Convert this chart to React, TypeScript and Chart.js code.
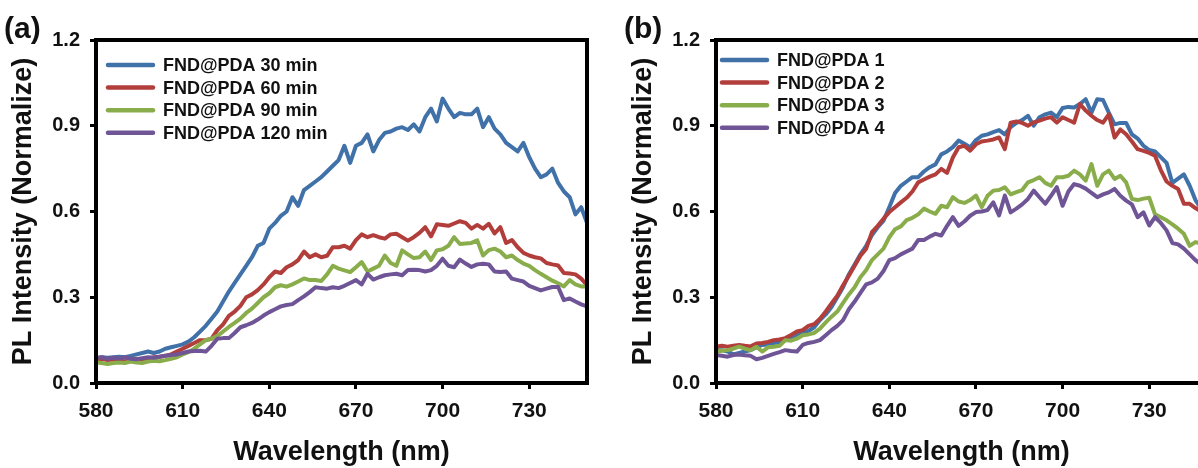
import React, { useEffect, useRef } from "react";
import { Chart, registerables } from "chart.js";

Chart.register(...registerables);

// ---------- data ----------
const wavelengths = [
  580, 582, 584, 586, 588, 590, 592, 594, 596, 598,
  600, 602, 604, 606, 608, 610, 612, 614, 616, 618,
  620, 622, 624, 626, 628, 630, 632, 634, 636, 638,
  640, 642, 644, 646, 648, 650, 652, 654, 656, 658,
  660, 662, 664, 666, 668, 670, 672, 674, 676, 678,
  680, 682, 684, 686, 688, 690, 692, 694, 696, 698,
  700, 702, 704, 706, 708, 710, 712, 714, 716, 718,
  720, 722, 724, 726, 728, 730, 732, 734, 736, 738,
  740, 742, 744, 746, 748, 750,
];

const xTickValues = [580, 610, 640, 670, 700, 730];
const yTickValues = [0, 0.3, 0.6, 0.9, 1.2];

// Panel (a)
const seriesNamesA = ["FND@PDA 30 min", "FND@PDA 60 min", "FND@PDA 90 min", "FND@PDA 120 min"];
const a30 = [
  0.085, 0.09, 0.088, 0.09, 0.092, 0.09, 0.095, 0.1, 0.105, 0.11,
  0.105, 0.11, 0.12, 0.125, 0.13, 0.135, 0.145, 0.16, 0.18, 0.2,
  0.225, 0.25, 0.285, 0.32, 0.35, 0.38, 0.41, 0.44, 0.48, 0.49,
  0.54, 0.56, 0.585, 0.6, 0.65, 0.62, 0.675, 0.69, 0.705, 0.72,
  0.74, 0.76, 0.78, 0.83, 0.77, 0.83, 0.84, 0.87, 0.81, 0.85,
  0.875, 0.88, 0.89, 0.895, 0.885, 0.905, 0.88, 0.93, 0.96, 0.915,
  0.995, 0.96, 0.93, 0.945, 0.94, 0.94, 0.96, 0.895, 0.93, 0.89,
  0.87, 0.84, 0.825, 0.81, 0.84, 0.79, 0.75, 0.72, 0.73, 0.75,
  0.7, 0.67, 0.65, 0.59, 0.615, 0.56,
];
const a60 = [
  0.08, 0.085, 0.08, 0.082, 0.08, 0.075, 0.08, 0.085, 0.08, 0.085,
  0.09, 0.092, 0.095, 0.1, 0.11, 0.12, 0.13, 0.14, 0.15, 0.15,
  0.155, 0.185, 0.205, 0.235, 0.25, 0.27, 0.3, 0.31, 0.325, 0.345,
  0.37, 0.39, 0.385, 0.405, 0.415, 0.43, 0.46, 0.44, 0.45, 0.44,
  0.445, 0.475, 0.475, 0.48, 0.47, 0.5, 0.52, 0.51, 0.517, 0.51,
  0.505, 0.52, 0.522, 0.51, 0.498, 0.51, 0.525, 0.545, 0.513, 0.555,
  0.553, 0.55, 0.558, 0.566, 0.56, 0.54, 0.553, 0.54, 0.557, 0.523,
  0.545, 0.49, 0.5, 0.475, 0.455, 0.446, 0.44, 0.436, 0.42, 0.415,
  0.411, 0.385, 0.383, 0.38, 0.365, 0.342,
];
const a90 = [
  0.072, 0.07, 0.066, 0.07, 0.072, 0.07, 0.075, 0.072, 0.07, 0.075,
  0.078, 0.076, 0.08, 0.085, 0.09, 0.1, 0.108, 0.12, 0.135, 0.15,
  0.155, 0.165, 0.18, 0.196, 0.21, 0.225, 0.245, 0.26, 0.28, 0.3,
  0.314, 0.335, 0.342, 0.337, 0.345, 0.355, 0.366, 0.36, 0.36, 0.357,
  0.38, 0.41, 0.4, 0.394, 0.388, 0.405, 0.423, 0.39, 0.4, 0.41,
  0.446, 0.42, 0.41, 0.464, 0.45, 0.437, 0.44, 0.46, 0.43, 0.464,
  0.468, 0.48, 0.51, 0.486, 0.488, 0.49, 0.499, 0.446, 0.465, 0.47,
  0.46, 0.44, 0.446, 0.43, 0.418, 0.41, 0.395, 0.382, 0.37, 0.358,
  0.349, 0.338, 0.36, 0.345, 0.338, 0.338,
];
const a120 = [
  0.088, 0.09, 0.085, 0.088, 0.086, 0.09, 0.085, 0.083, 0.087, 0.09,
  0.088, 0.092, 0.095, 0.098, 0.1, 0.105, 0.11, 0.112, 0.113, 0.11,
  0.13, 0.155, 0.157, 0.157, 0.175, 0.195, 0.202, 0.21, 0.222, 0.236,
  0.248, 0.258, 0.268, 0.273, 0.276, 0.29, 0.303, 0.318, 0.335, 0.332,
  0.33, 0.335, 0.332, 0.34, 0.35, 0.36, 0.345, 0.382, 0.362, 0.37,
  0.377, 0.38, 0.382, 0.377, 0.395, 0.396, 0.395, 0.39, 0.395, 0.41,
  0.435, 0.41, 0.405, 0.432, 0.418, 0.406, 0.415, 0.417, 0.415, 0.39,
  0.388, 0.39, 0.365, 0.36, 0.355, 0.34, 0.332, 0.324, 0.33, 0.336,
  0.336, 0.29, 0.296, 0.285, 0.275, 0.268,
];

// Panel (b)
const seriesNamesB = ["FND@PDA 1", "FND@PDA 2", "FND@PDA 3", "FND@PDA 4"];
const b1 = [
  0.115, 0.115, 0.11, 0.1, 0.105, 0.11, 0.115, 0.125, 0.133, 0.135,
  0.14, 0.142, 0.15, 0.16, 0.168, 0.175, 0.182, 0.195, 0.22, 0.24,
  0.266, 0.3, 0.335, 0.38, 0.415, 0.45, 0.48, 0.518, 0.545, 0.568,
  0.615, 0.665, 0.69, 0.705, 0.72, 0.72, 0.74, 0.755, 0.765, 0.8,
  0.81, 0.825, 0.848, 0.837, 0.824, 0.85, 0.865, 0.87, 0.878, 0.885,
  0.87, 0.895, 0.91, 0.92, 0.935, 0.9, 0.93, 0.94, 0.946, 0.93,
  0.962, 0.966, 0.964, 0.976, 0.993, 0.946, 0.993, 0.99, 0.946, 0.905,
  0.91, 0.91, 0.87, 0.855, 0.83, 0.815, 0.81, 0.79, 0.77, 0.7,
  0.715, 0.73, 0.69, 0.64, 0.61, 0.59,
];
const b2 = [
  0.127, 0.13, 0.127, 0.13, 0.133, 0.13, 0.128, 0.138, 0.14, 0.144,
  0.15, 0.152, 0.157, 0.168, 0.18, 0.185, 0.2, 0.206, 0.225, 0.25,
  0.278, 0.305, 0.342, 0.375, 0.41, 0.445, 0.47, 0.528, 0.55, 0.575,
  0.598, 0.615, 0.632, 0.648, 0.67, 0.702, 0.712, 0.722, 0.73, 0.749,
  0.735, 0.789, 0.825, 0.83, 0.813, 0.835, 0.845, 0.848, 0.852, 0.859,
  0.818, 0.911, 0.915, 0.91, 0.9, 0.912, 0.918, 0.925, 0.93, 0.911,
  0.93, 0.92, 0.911, 0.976, 0.953, 0.935, 0.92, 0.911, 0.94, 0.859,
  0.887, 0.87, 0.845, 0.818, 0.812, 0.805, 0.795, 0.745, 0.705, 0.69,
  0.679, 0.627, 0.627, 0.612, 0.6, 0.59,
];
const b3 = [
  0.11, 0.113, 0.115, 0.12, 0.127, 0.12, 0.115, 0.127, 0.11, 0.125,
  0.127, 0.13, 0.15, 0.148, 0.155, 0.167, 0.17, 0.175, 0.19, 0.212,
  0.232, 0.25, 0.28, 0.31, 0.335, 0.37, 0.395, 0.43, 0.45, 0.47,
  0.51, 0.538, 0.548, 0.57, 0.578, 0.59, 0.61, 0.6, 0.592, 0.62,
  0.615, 0.65, 0.635, 0.63, 0.64, 0.656, 0.615, 0.655, 0.673, 0.675,
  0.685, 0.66, 0.668, 0.675, 0.702, 0.71, 0.72, 0.7, 0.69, 0.72,
  0.72, 0.725, 0.743, 0.73, 0.708, 0.766, 0.69, 0.73, 0.743, 0.714,
  0.725, 0.702, 0.644, 0.64, 0.645, 0.648, 0.59, 0.58, 0.569, 0.555,
  0.54, 0.522, 0.48, 0.493, 0.488, 0.48,
];
const b4 = [
  0.098, 0.095, 0.092, 0.098, 0.1, 0.097, 0.095, 0.083, 0.088, 0.095,
  0.102, 0.108, 0.115, 0.112, 0.11, 0.133, 0.14, 0.144, 0.15, 0.167,
  0.185, 0.2, 0.22, 0.258, 0.285, 0.315, 0.345, 0.352, 0.365, 0.392,
  0.43, 0.437, 0.45, 0.46, 0.47, 0.5, 0.5, 0.512, 0.522, 0.516,
  0.55, 0.58, 0.55, 0.565, 0.585, 0.598, 0.6, 0.605, 0.632, 0.586,
  0.656, 0.597, 0.61, 0.625, 0.644, 0.673, 0.65, 0.627, 0.655, 0.685,
  0.62, 0.67, 0.696, 0.69, 0.68, 0.665, 0.65, 0.66, 0.667, 0.679,
  0.655, 0.638, 0.625, 0.58, 0.597, 0.551, 0.58, 0.56, 0.534, 0.49,
  0.485, 0.47, 0.45, 0.43, 0.415, 0.4,
];

const seriesColors = ["#4071a8", "#b23e3c", "#8aad4c", "#6f5596"];

// ---------- chart ----------
const FONT = "'Liberation Sans', Arial, sans-serif";

type PanelProps = {
  left: number;
  panelLabel: string;
  names: string[];
  series: number[][];
  legendX: number;
  legendY: number;
};

function Panel({ left, panelLabel, names, series, legendX, legendY }: PanelProps) {
  const ref = useRef<HTMLCanvasElement | null>(null);

  useEffect(() => {
    if (!ref.current) return;
    const overlay = {
      id: "overlay",
      afterDatasetsDraw(chart: any) {
        const { ctx, chartArea: a } = chart;
        ctx.save();
        ctx.strokeStyle = "#000";
        ctx.lineWidth = 4;
        ctx.strokeRect(a.left, a.top, a.right - a.left, a.bottom - a.top);
        ctx.restore();
      },
      afterDraw(chart: any) {
        const { ctx } = chart;
        ctx.save();
        // panel label
        ctx.fillStyle = "#111";
        ctx.font = `bold 30px ${FONT}`;
        ctx.textAlign = "left";
        ctx.textBaseline = "alphabetic";
        ctx.fillText(panelLabel, 4, 38);
        // legend
        ctx.font = `bold 18px ${FONT}`;
        ctx.textBaseline = "middle";
        names.forEach((n, i) => {
          const y = legendY + i * 22.6;
          ctx.strokeStyle = seriesColors[i];
          ctx.lineWidth = 4.5;
          ctx.lineCap = "round";
          ctx.beginPath();
          ctx.moveTo(legendX, y);
          ctx.lineTo(legendX + 45, y);
          ctx.stroke();
          ctx.fillStyle = "#111";
          ctx.fillText(n, legendX + 55, y + 1);
        });
        ctx.restore();
      },
    };

    const chart = new Chart(ref.current, {
      type: "line",
      data: {
        datasets: series.map((s, i) => ({
          label: names[i],
          data: wavelengths.map((w, j) => ({ x: w, y: s[j] })),
          borderColor: seriesColors[i],
          backgroundColor: seriesColors[i],
          borderWidth: 4,
          borderJoinStyle: "round",
          borderCapStyle: "round",
          pointRadius: 0,
          tension: 0,
          fill: false,
          order: series.length - i,
        })),
      },
      options: {
        animation: false,
        responsive: false,
        devicePixelRatio: 1,
        layout: { padding: { top: 40, right: 13, left: 0, bottom: 0 } },
        plugins: { legend: { display: false }, tooltip: { enabled: false } },
        scales: {
          x: {
            type: "linear",
            min: 580,
            max: 750,
            afterBuildTicks: (scale: any) => {
              scale.ticks = xTickValues.map((v) => ({ value: v }));
            },
            afterFit: (scale: any) => {
              scale.height = 85;
            },
            ticks: {
              color: "#111",
              font: { family: FONT, size: 21, weight: "bold" },
              padding: 10,
              maxRotation: 0,
              autoSkip: false,
              callback: (v: any) => String(v),
            },
            grid: {
              display: true,
              drawOnChartArea: false,
              drawTicks: true,
              tickLength: 6,
              tickWidth: 3,
              tickColor: "#000",
            },
            border: { display: true, color: "#000", width: 4 },
            title: {
              display: true,
              text: "Wavelength (nm)",
              color: "#111",
              font: { family: FONT, size: 27, weight: "bold", lineHeight: 1 },
              padding: { top: 0, bottom: 2 },
            },
          },
          y: {
            type: "linear",
            min: 0,
            max: 1.2,
            afterBuildTicks: (scale: any) => {
              scale.ticks = yTickValues.map((v) => ({ value: v }));
            },
            afterFit: (scale: any) => {
              scale.width = 96;
            },
            ticks: {
              color: "#111",
              font: { family: FONT, size: 20, weight: "bold" },
              padding: 10,
              autoSkip: false,
              callback: (v: any) => Number(v).toFixed(1),
            },
            grid: {
              display: true,
              drawOnChartArea: false,
              drawTicks: true,
              tickLength: 6,
              tickWidth: 3,
              tickColor: "#000",
            },
            border: { display: true, color: "#000", width: 4 },
            title: {
              display: true,
              text: "PL Intensity (Normalize)",
              color: "#111",
              font: { family: FONT, size: 27, weight: "bold", lineHeight: 1 },
              padding: { top: 10, bottom: 0 },
            },
          },
        },
      },
      plugins: [overlay],
    } as any);
    return () => chart.destroy();
  }, []);

  return (
    <div style={{ position: "absolute", left, top: 0, width: 600, height: 468 }}>
      <canvas ref={ref} width={600} height={468} style={{ width: 600, height: 468 }} />
    </div>
  );
}

export default function App() {
  return (
    <div
      style={{
        position: "absolute",
        left: 0,
        top: 0,
        width: 1198,
        height: 468,
        overflow: "hidden",
        background: "#fff",
      }}
    >
      <Panel
        left={0}
        panelLabel="(a)"
        names={seriesNamesA}
        series={[a30, a60, a90, a120]}
        legendX={108}
        legendY={65}
      />
      <Panel
        left={620}
        panelLabel="(b)"
        names={seriesNamesB}
        series={[b1, b2, b3, b4]}
        legendX={102}
        legendY={60}
      />
    </div>
  );
}
